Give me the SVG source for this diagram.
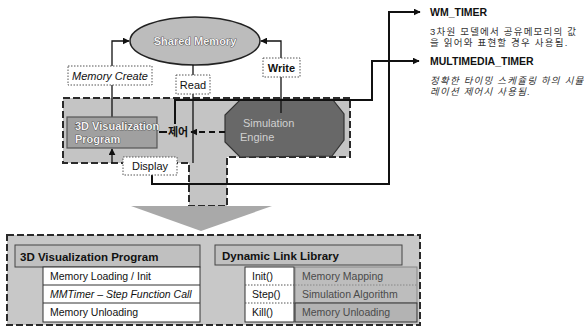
<svg xmlns="http://www.w3.org/2000/svg" width="584" height="326" viewBox="0 0 584 326">
<defs>
<marker id="ah" viewBox="0 0 10 10" refX="9" refY="5" markerWidth="7" markerHeight="7" markerUnits="userSpaceOnUse" orient="auto">
<path d="M0,0 L10,5 L0,10 z" fill="#111"/>
</marker>
<style>
text{font-family:"Liberation Sans",Arial,sans-serif;fill:#111}
.b{font-weight:bold}
.t11{font-size:11px}
.t10{font-size:10.5px}
.lt{fill:#f2f2f2;stroke:#222;stroke-width:0.7;paint-order:stroke}
.dot{fill:#fff;stroke:#555;stroke-width:1;stroke-dasharray:1.5 1.5}
.dash{stroke:#2a2a2a;stroke-width:2;stroke-dasharray:7 3}
.ln{fill:none;stroke:#111;stroke-width:1.3}
.thk{fill:none;stroke:#111;stroke-width:2}
.ko{font-family:"Liberation Sans","Noto Sans CJK KR",sans-serif;font-size:9.5px;fill:#333;letter-spacing:1.2px}
</style>
</defs>

<g id="region">
<polygon points="63,98 350,98 350,157 227,157 227,206 189,206 189,163 63,163" fill="#c4c4c4" class="dash"/>
<polygon points="131,206 272,206 201,231" fill="#a9a9a9"/>
</g>

<g id="shared-memory">
<ellipse cx="195" cy="41" rx="65" ry="24" fill="#bcbcbc" stroke="#222" stroke-width="1.5"/>
<text x="195" y="45" text-anchor="middle" class="t11 b lt">Shared Memory</text>
</g>

<g id="octagon">
<polygon points="240,100 333,100 344,114 344,140 332,156 240,157 225,142 225,115" fill="#686868" stroke="#333" stroke-width="1.2"/>
<text x="243" y="127" class="t11" style="fill:#d0d0d0">Simulation</text>
<text x="240" y="141" class="t11" style="fill:#d0d0d0">Engine</text>
</g>

<g id="connectors">
<polyline class="ln" points="112,117 112,85"/>
<polyline class="ln" points="112,66 112,41 129,41" marker-end="url(#ah)"/>
<polyline class="ln" points="193,65 193,75"/>
<polyline class="ln" points="193,94 193,163"/>
<polyline class="ln" points="281,113 281,77"/>
<polyline class="ln" points="281,58 281,41 261,41" marker-end="url(#ah)"/>
<polyline class="ln" points="112,163 112,149" marker-end="url(#ah)"/>
<polyline class="thk" points="167,132 159,132"/>
<polyline class="thk" points="225,132 191,132" stroke-dasharray="6 4" marker-end="url(#ah)"/>
<polyline class="thk" points="175,124 175,100 372,100 372,61 419,61" marker-end="url(#ah)"/>
<polyline class="thk" points="152,175 152,184 389,184 389,12 420,12" marker-end="url(#ah)"/>
<polyline class="ln" points="200,276 244,276" marker-end="url(#ah)"/>
<polyline class="ln" points="200,294 244,294" marker-end="url(#ah)"/>
<polyline class="ln" points="200,312 244,312" marker-end="url(#ah)"/>
</g>

<g id="memory-create">
<rect x="68" y="66" width="84" height="19" class="dot"/>
<text x="110" y="79.5" text-anchor="middle" class="t11" font-style="italic">Memory Create</text>
</g>

<g id="read">
<rect x="176" y="75" width="34" height="19" class="dot"/>
<text x="193" y="88.5" text-anchor="middle" class="t11">Read</text>
</g>

<g id="write">
<rect x="263" y="58" width="37" height="19" class="dot"/>
<text x="281.5" y="71.5" text-anchor="middle" class="t11 b">Write</text>
</g>

<g id="vis-program">
<rect x="67" y="117" width="90" height="31" fill="#a0a0a0" stroke="#555" stroke-width="1.2"/>
<text x="75" y="130" class="t11 b lt">3D Visualization</text>
<text x="75" y="143" class="t11 b lt">Program</text>
</g>

<g id="control">
<text x="178" y="136" text-anchor="middle" class="t11 b" style="font-family:'Liberation Sans','Noto Sans CJK KR',sans-serif">제어</text>
</g>

<g id="display">
<rect x="123" y="157" width="54" height="18" class="dot"/>
<text x="150" y="170" text-anchor="middle" class="t11">Display</text>
</g>

<g id="wm-timer">
<text x="430" y="16" class="t10 b">WM_TIMER</text>
<text x="430" y="35" class="ko">3차원 모델에서 공유메모리의 값</text>
<text x="430" y="46" class="ko">을 읽어와 표현할 경우 사용됨.</text>
</g>

<g id="mm-timer">
<text x="430" y="65" class="t10 b">MULTIMEDIA_TIMER</text>
<text x="430" y="84" class="ko" font-style="italic">정확한 타이밍 스케쥴링 하의 시뮬</text>
<text x="430" y="95" class="ko" font-style="italic">레이션 제어시 사용됨.</text>
</g>

<g id="bottom-box">
<rect x="7" y="235" width="413" height="90" fill="#c8c8c8" class="dash"/>
</g>

<g id="program-table">
<rect x="15" y="245" width="185" height="22" fill="#c0c0c0" stroke="#444" stroke-width="1"/>
<text x="20" y="261" class="b" font-size="11.5">3D Visualization Program</text>
<rect x="43" y="267" width="157" height="55" fill="#fff" stroke="#333" stroke-width="1"/>
<line x1="43" y1="285" x2="200" y2="285" stroke="#333"/>
<line x1="43" y1="303" x2="200" y2="303" stroke="#333"/>
<text x="50" y="280" class="t10">Memory Loading / Init</text>
<text x="50" y="298" class="t10" font-style="italic">MMTimer – Step Function Call</text>
<text x="50" y="316" class="t10">Memory Unloading</text>
</g>

<g id="dll-table">
<rect x="215" y="245" width="187" height="20" fill="#c0c0c0" stroke="#444" stroke-width="1"/>
<text x="222" y="260" class="b" font-size="11.5">Dynamic Link Library</text>
<rect x="295" y="267" width="122" height="36" fill="#bdbdbd" stroke="#888" stroke-width="1"/>
<line x1="295" y1="285" x2="417" y2="285" stroke="#888" stroke-dasharray="1.5 1.5"/>
<rect x="295" y="303" width="122" height="19" fill="#b3b3b3" stroke="#333" stroke-width="1"/>
<text x="302" y="280" class="t10" style="fill:#4a4a4a">Memory Mapping</text>
<text x="302" y="298" class="t10" style="fill:#4a4a4a">Simulation Algorithm</text>
<text x="302" y="316" class="t10" style="fill:#4a4a4a">Memory Unloading</text>
</g>

<g id="func-table">
<rect x="245" y="267" width="49" height="55" fill="#fff" stroke="#333" stroke-width="1"/>
<line x1="245" y1="285" x2="294" y2="285" stroke="#555" stroke-dasharray="1.5 1.5"/>
<line x1="245" y1="303" x2="294" y2="303" stroke="#555" stroke-dasharray="1.5 1.5"/>
<text x="252" y="280" class="t10">Init()</text>
<text x="252" y="298" class="t10">Step()</text>
<text x="252" y="316" class="t10">Kill()</text>
</g>
</svg>
